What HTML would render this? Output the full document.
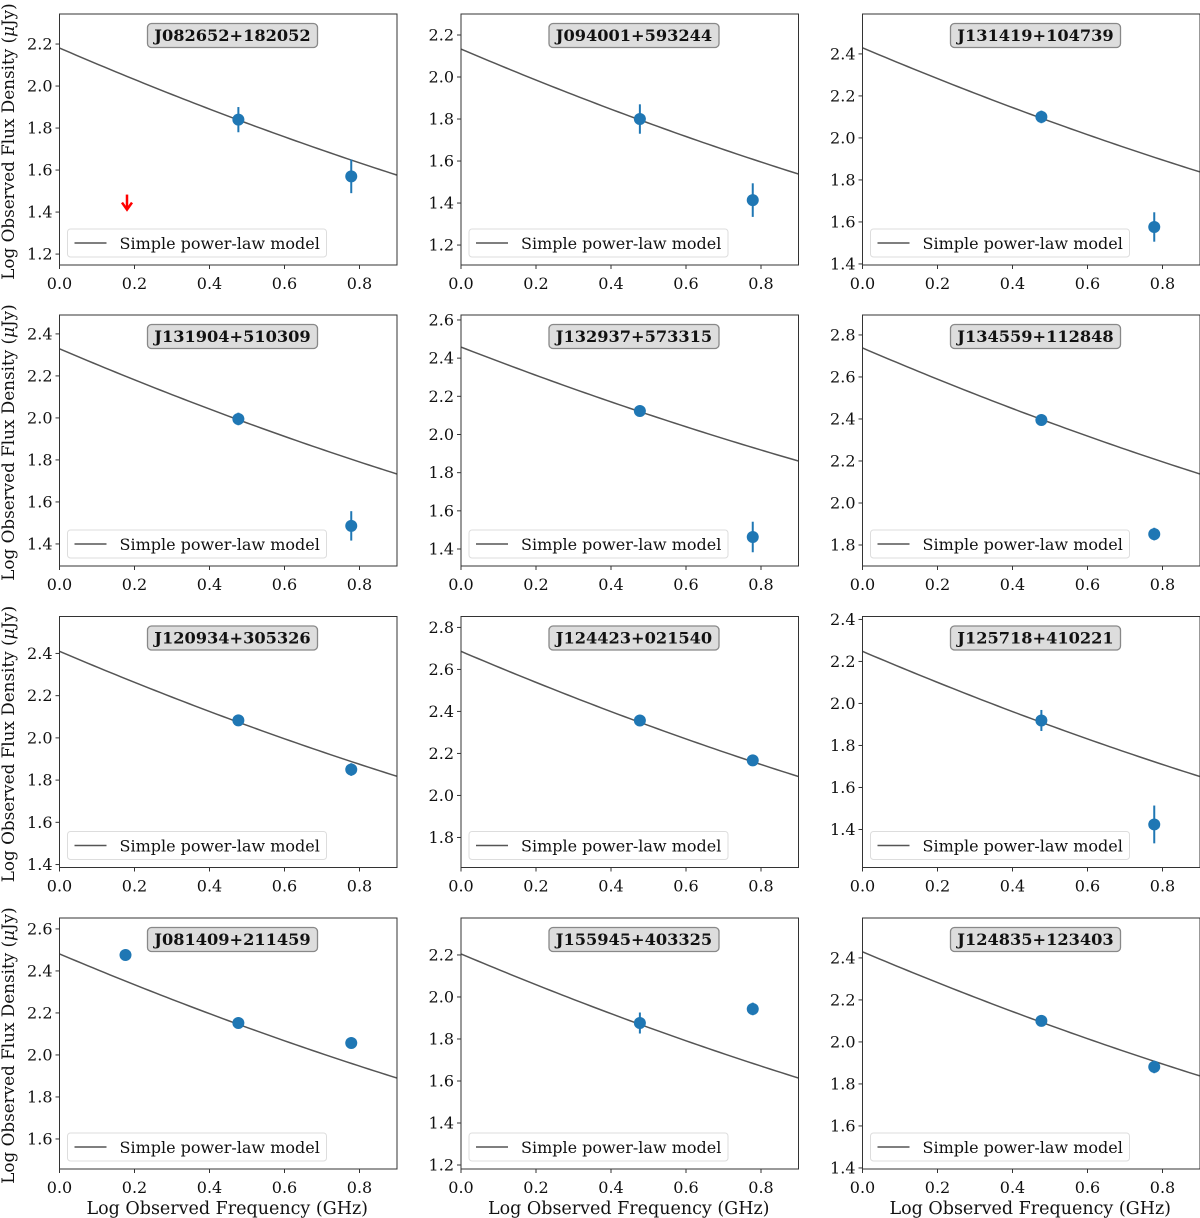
<!DOCTYPE html>
<html><head><meta charset="utf-8"><style>
body{margin:0;background:#fff;}
svg{display:block;font-family:"DejaVu Serif","Liberation Serif",serif;}
</style></head><body>
<svg id="fig" width="1200" height="1218" viewBox="0 0 1200 1218" xmlns="http://www.w3.org/2000/svg"></svg>
<script>
const names=["J082652+182052","J094001+593244","J131419+104739","J131904+510309","J132937+573315","J134559+112848","J120934+305326","J124423+021540","J125718+410221","J081409+211459","J155945+403325","J124835+123403"];
const yMin=[1.148,1.105,1.395,1.295,1.311,1.70,1.386,1.657,1.219,1.457,1.181,1.395];
const yMax=[2.343,2.30,2.59,2.49,2.626,2.895,2.575,2.852,2.414,2.652,2.376,2.59];
const lineStart=[2.181,2.133,2.429,2.329,2.458,2.738,2.41,2.686,2.248,2.481,2.205,2.429];
const lineEnd=[1.576,1.538,1.838,1.733,1.861,2.138,1.818,2.09,1.652,1.89,1.614,1.838];
const lineSag=0.022;
const ptX=[[0.477,0.778],[0.477,0.778],[0.477,0.778],[0.477,0.778],[0.477,0.778],[0.477,0.778],[0.477,0.778],[0.477,0.778],[0.477,0.778],[0.176,0.477,0.778],[0.477,0.778],[0.477,0.778]];
const ptY=[[1.84,1.57],[1.80,1.414],[2.10,1.576],[1.995,1.486],[2.123,1.463],[2.395,1.852],[2.083,1.85],[2.357,2.167],[1.919,1.424],[2.476,2.152,2.057],[1.876,1.943],[2.10,1.881]];
const ptErr=[[0.06,0.08],[0.07,0.08],[0.03,0.07],[0.03,0.07],[0.02,0.08],[0.02,0.03],[0.025,0.03],[0.02,0.02],[0.05,0.09],[0.01,0.02,0.01],[0.05,0.03],[0.025,0.03]];
const upperX=[0.18], upperY=[1.45], upperPanel=[0];
const xTicks=[0,0.2,0.4,0.6,0.8];
const xMaxV=0.9;

const NS="http://www.w3.org/2000/svg";
const svg=document.getElementById('fig');
function mk(tag,at,parent){const e=document.createElementNS(NS,tag);for(const k in at)e.setAttribute(k,at[k]);(parent||svg).appendChild(e);return e;}
const colL=[59.5,461,862.5], rowT=[14,315,616.5,918], W=337.5, H=251;

for(let p=0;p<12;p++){
  const c=p%3,r=Math.floor(p/3);
  const L=colL[c],T=rowT[r];
  const g=mk('g',{});
  
  
  const xs=v=>L+v/xMaxV*W;
  const ys=v=>T+H-(v-yMin[p])/(yMax[p]-yMin[p])*H;
  const cid='clip'+p;
  const cp=mk('clipPath',{id:cid},g);mk('rect',{x:L,y:T,width:W,height:H},cp);
  let d='';
  for(let i=0;i<=60;i++){const x=xMaxV*i/60,t=x/xMaxV;
    const y=lineStart[p]+(lineEnd[p]-lineStart[p])*t-lineSag*4*t*(1-t);
    d+=(i?'L':'M')+xs(x).toFixed(2)+' '+ys(y).toFixed(2);}
  const ln=mk('path',{d:d,fill:'none',stroke:'#555',"stroke-width":1.5,"clip-path":'url(#'+cid+')'},g);
  
  
  for(let i=0;i<ptX[p].length;i++){
    const x=xs(ptX[p][i]),y=ys(ptY[p][i]);
    const e=mk('line',{x1:x,x2:x,y1:ys(ptY[p][i]+ptErr[p][i]),y2:ys(ptY[p][i]-ptErr[p][i]),stroke:'#1f77b4',"stroke-width":2},g);
    
    
    const ci=mk('circle',{cx:x,cy:y,r:6,fill:'#1f77b4'},g);
    
    
  }
  for(let k=0;k<upperPanel.length;k++){ if(upperPanel[k]!==p)continue;
    const x=xs(upperX[k]),y=ys(upperY[k]);
    const a=mk('g',{},g);
    
    
    mk('line',{x1:x,x2:x,y1:y-7,y2:y+6,stroke:'red',"stroke-width":2.5},a);
    mk('path',{d:`M${x-5} ${y+1}L${x} ${y+8}L${x+5} ${y+1}`,fill:'none',stroke:'red',"stroke-width":2.5},a);
  }
  const fr=mk('rect',{x:L,y:T,width:W,height:H,fill:'none',stroke:'#333',"stroke-width":1},g);
  
  
  const start=Math.ceil(yMin[p]/0.2-1e-6)*0.2;
  for(let v=start;v<=yMax[p]+1e-6;v+=0.2){
    const y=ys(v);
    mk('line',{x1:L-4,x2:L,y1:y,y2:y,stroke:'#333'},g);
    const t=mk('text',{x:L-7,y:y+5.5,"text-anchor":'end',"font-size":16,fill:'#111'},g);
    t.textContent=v.toFixed(1);
    
    
  }
  for(const v of xTicks){
    const x=xs(v);
    mk('line',{x1:x,x2:x,y1:T+H,y2:T+H+4,stroke:'#333'},g);
    const t=mk('text',{x:x,y:T+H+24,"text-anchor":'middle',"font-size":16,fill:'#111'},g);
    t.textContent=v.toFixed(1);
    
    
  }
  const tb=mk('rect',{x:L+88,y:T+9.5,width:170,height:24,rx:4,fill:'#ddd',stroke:'#888',"stroke-width":1.3},g);
  
  
  const tt=mk('text',{x:L+173,y:T+27,"text-anchor":'middle',"font-size":16.2,"font-weight":'bold',fill:'#111'},g);
  tt.textContent=names[p];
  
  
  const lg=mk('g',{},g);
  
  
  mk('rect',{x:L+8,y:T+215,width:259,height:28,rx:3,fill:'#fff',"fill-opacity":0.85,stroke:'#ddd'},lg);
  mk('line',{x1:L+15,x2:L+47,y1:T+229,y2:T+229,stroke:'#555',"stroke-width":1.5},lg);
  const lt=mk('text',{x:L+60,y:T+235,"font-size":16,fill:'#111'},lg);
  lt.textContent='Simple power-law model';
  
  
  if(c===0){
    const yl=mk('text',{x:0,y:0,"text-anchor":'middle',"font-size":16.8,fill:'#111',transform:`translate(14,${T+H/2+2}) rotate(-90)`},g);
    yl.innerHTML='Log Observed Flux Density (<tspan font-style="italic">μ</tspan>Jy)';
    
    
  }
  if(r===3){
    const xl=mk('text',{x:L+W/2-1,y:1214,"text-anchor":'middle',"font-size":17.5,fill:'#111'},g);
    xl.textContent='Log Observed Frequency (GHz)';
    
    
  }
}
</script>
</body></html>
